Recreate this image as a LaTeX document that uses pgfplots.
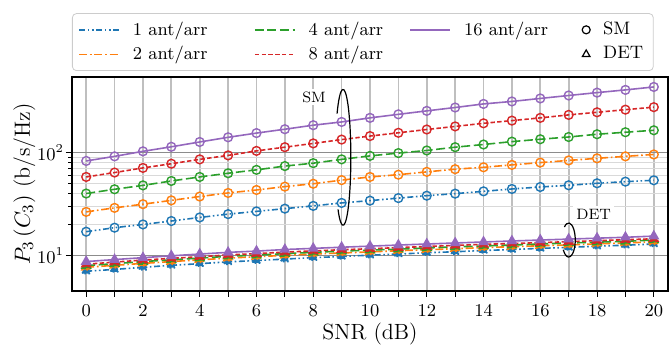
\documentclass[border=0pt]{standalone}
\usepackage{pgfplots}
\usepackage{pgfplotstable}
\pgfplotsset{compat=1.18}
\definecolor{tabblue}{HTML}{1F77B4}
\definecolor{taborange}{HTML}{FF7F0E}
\definecolor{tabgreen}{HTML}{2CA02C}
\definecolor{tabred}{HTML}{D62728}
\definecolor{tabpurple}{HTML}{9467BD}
\pgfplotsset{
  legend image code/.code={\draw[mark repeat=2,mark phase=2,#1] plot coordinates {(0pt,0pt) (10pt,0pt) (20pt,0pt)};},
  sa/.style={color=tabblue, line width=0.8pt, dash pattern=on 3pt off 1.3pt on 0.8pt off 1.3pt on 0.8pt off 1.3pt},
  sb/.style={color=taborange, line width=0.8pt, dash pattern=on 4pt off 1.4pt on 0.8pt off 1.4pt},
  sc/.style={color=tabgreen, line width=0.8pt, dash pattern=on 4.5pt off 1.8pt},
  sd/.style={color=tabred, line width=0.8pt, dash pattern=on 2.2pt off 1.2pt},
  se/.style={color=tabpurple, line width=0.8pt},
  smk/.style={mark=o, mark size=2.2pt, mark options={solid, line width=0.7pt}},
  dtk/.style={mark=triangle*, mark size=2.4pt, mark options={solid, line width=0.5pt}},
}
\pgfplotstableread{
x b o g r p
0 17 26.5 40 58 83
1 18.6 29 44 64 92
2 20 31.5 48 71 103
3 21.6 34.3 53 78 114
4 23.4 37.4 58 86 127
5 25.2 40.5 63 94 141
6 26.8 43.3 68 104 155
7 28.5 46.7 74 113 169
8 30.3 49.8 79 123 185
9 32.4 54 86 134 199
10 34.1 58 93 145 218
11 36.1 61 99 156 236
12 38.1 65 105 168 255
13 39.9 69 113 180 275
14 42 72 120 193 298
15 44.3 76 128 205 315
16 46.3 80 135 218 337
17 48.1 84 142 233 360
18 50.3 88 151 247 384
19 52.2 92 158 262 408
20 53.8 96 165 277 436
}\smtable
\pgfplotstableread{
x b o g r p
0 7.0 7.65 7.95 8.2 8.7
1 7.3 8.0 8.3 8.6 9.1
2 7.65 8.35 8.7 9.0 9.5
3 8.0 8.7 9.05 9.35 9.9
4 8.3 9.05 9.4 9.7 10.3
5 8.65 9.4 9.8 10.1 10.7
6 8.9 9.7 10.05 10.4 11.0
7 9.2 10.0 10.4 10.75 11.4
8 9.5 10.3 10.7 11.05 11.7
9 9.75 10.55 11.0 11.35 12.0
10 10.05 10.8 11.25 11.6 12.3
11 10.3 11.1 11.5 11.9 12.6
12 10.6 11.35 11.8 12.2 12.9
13 10.85 11.6 12.1 12.5 13.2
14 11.15 11.9 12.35 12.8 13.5
15 11.4 12.15 12.6 13.05 13.8
16 11.7 12.4 12.9 13.3 14.1
17 11.95 12.65 13.2 13.6 14.4
18 12.3 12.95 13.45 13.9 14.7
19 12.55 13.2 13.7 14.2 15.0
20 12.9 13.55 14.1 14.5 15.4
}\dettable
\begin{document}
\begin{tikzpicture}
\begin{semilogyaxis}[
  name=ax,
  scale only axis,
  width=298pt, height=107pt,
  xmin=-0.5, xmax=20.5,
  ymin=4.5, ymax=545,
  xtick={0,1,...,20},
  xticklabels={0,,2,,4,,6,,8,,10,,12,,14,,16,,18,,20},
  ytick={10,100},
  tick align=outside, tick pos=left,
  major tick length=3pt, minor tick length=1.8pt,
  tick style={black, line width=0.5pt},
  axis line style={black, line width=0.6pt},
  xmajorgrids, ymajorgrids, yminorgrids,
  major x grid style={color=black!25, line width=0.85pt},
  major y grid style={color=black!45, line width=0.6pt},
  minor y grid style={color=black!15, line width=0.7pt},
  tick label style={font=\fontsize{9}{10}\selectfont},
  yticklabel style={xshift=2.5pt},
  label style={font=\fontsize{11}{13}\selectfont},
  xlabel={SNR (dB)},
  xlabel style={yshift=3.5pt},
  ylabel={$P_3\left(C_3\right)$ (b/s/Hz)},
  ylabel style={yshift=-6pt},
  legend columns=4,
  legend cell align=left,
  legend style={at={(0,1)}, anchor=south west, yshift=3pt,
    draw=black!20, rounded corners=2pt, fill=white,
    font=\fontsize{9}{11}\selectfont, inner xsep=3pt, inner ysep=2pt,
    row sep=0pt,
    /tikz/every odd column/.append style={column sep=4.5pt}},
]
\addlegendimage{sa}\addlegendentry{\makebox[58.5pt][l]{1 ant/arr}}
\addlegendimage{sc}\addlegendentry{\makebox[48.5pt][l]{4 ant/arr}}
\addlegendimage{se}\addlegendentry{\makebox[57pt][l]{16 ant/arr}}
\addlegendimage{legend image code/.code={\draw[black, mark=o, mark size=2pt, mark options={line width=0.6pt}] plot coordinates {(0pt,0pt)};}}\addlegendentry{SM}
\addlegendimage{sb}\addlegendentry{\makebox[58.5pt][l]{2 ant/arr}}
\addlegendimage{sd}\addlegendentry{\makebox[48.5pt][l]{8 ant/arr}}
\addlegendimage{empty legend}\addlegendentry{\makebox[57pt][l]{}}
\addlegendimage{legend image code/.code={\draw[black, mark=triangle, mark size=2.2pt, mark options={line width=0.6pt}] plot coordinates {(0pt,0pt)};}}\addlegendentry{DET}

\addplot[sa, smk, forget plot] table[x=x,y=b]{\smtable};
\addplot[sb, smk, forget plot] table[x=x,y=o]{\smtable};
\addplot[sc, smk, forget plot] table[x=x,y=g]{\smtable};
\addplot[sd, smk, forget plot] table[x=x,y=r]{\smtable};
\addplot[se, smk, forget plot] table[x=x,y=p]{\smtable};
\addplot[sa, dtk, mark options={fill=tabblue}, forget plot] table[x=x,y=b]{\dettable};
\addplot[sb, dtk, mark options={fill=taborange}, forget plot] table[x=x,y=o]{\dettable};
\addplot[sc, dtk, mark options={fill=tabgreen}, forget plot] table[x=x,y=g]{\dettable};
\addplot[sd, dtk, mark options={fill=tabred}, forget plot] table[x=x,y=r]{\dettable};
\addplot[se, dtk, mark options={fill=tabpurple}, forget plot] table[x=x,y=p]{\dettable};

\node[fill=white, inner sep=1.5pt, font=\fontsize{7.5}{9}\selectfont] at (axis cs:8.03,348) {SM};
\node[fill=white, inner sep=1.5pt, font=\fontsize{7.5}{9}\selectfont] at (axis cs:17.88,25.3) {DET};
\draw[black, line width=0.6pt] (axis cs:9.05,90) ++(140:3.9pt and 34pt) arc[start angle=140, end angle=-130, x radius=3.9pt, y radius=34pt];
\draw[black, line width=0.6pt] (axis cs:17.0,14.1) ++(130:3.3pt and 8.5pt) arc[start angle=130, end angle=-145, x radius=3.3pt, y radius=8.5pt];
\end{semilogyaxis}
\pgfresetboundingbox
\path[use as bounding box] ([shift={(-36pt,-27pt)}]ax.south west) rectangle ([shift={(0.5pt,38.5pt)}]ax.north east);
\end{tikzpicture}
\end{document}
